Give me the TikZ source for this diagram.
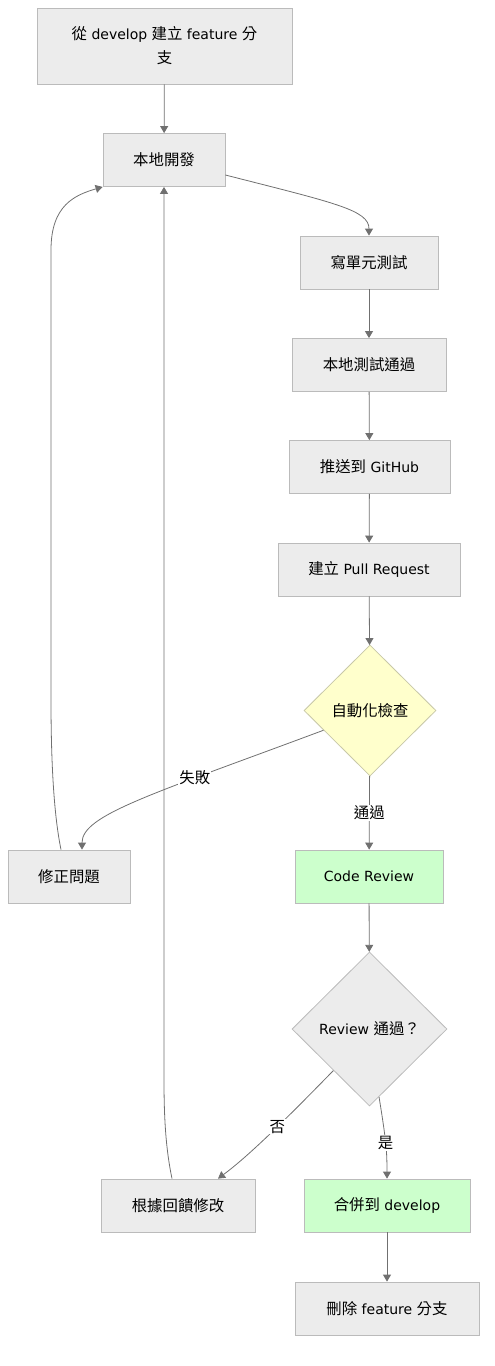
\documentclass[tikz,border=0pt]{standalone}
\usepackage{fontspec}
\setmainfont{DejaVu Sans}
\newfontfamily\cjk[Scale=1.1]{Noto Sans CJK TC}
\newcommand{\zh}[1]{{\cjk #1}}
\usetikzlibrary{shapes.geometric,arrows.meta}

\definecolor{boxfill}{HTML}{ECECEC}
\definecolor{boxline}{HTML}{BBBBBB}
\definecolor{checkfill}{HTML}{FFFFCC}
\definecolor{checkline}{HTML}{C8C8A8}
\definecolor{okfill}{HTML}{CCFFCC}
\definecolor{edgeline}{HTML}{707070}

\tikzset{
    box/.style={draw=boxline, fill=boxfill, line width=0.8pt, minimum height=53pt, inner sep=0pt, align=center},
    okbox/.style={box, fill=okfill},
    decision/.style={diamond, draw=boxline, fill=boxfill, line width=0.8pt, inner sep=0pt, align=center},
    edge/.style={draw=edgeline, line width=0.8pt, -{Triangle[length=7pt,width=8pt]}},
    lbl/.style={fill=white, inner sep=1pt}
}

\begin{document}
\begin{tikzpicture}[x=1pt, y=-1pt, font=\fontsize{14}{24}\selectfont]
    \useasboundingbox (0,0) rectangle (495,1366);

    % Nodes
    \node[box, minimum width=255pt, minimum height=76pt] (start) at (164.5,46) {\zh{從} develop \zh{建立} feature \zh{分}\\\zh{支}};
    \node[box, minimum width=122pt] (dev) at (164,160) {\zh{本地開發}};
    \node[box, minimum width=138pt] (unit) at (369,262.5) {\zh{寫單元測試}};
    \node[box, minimum width=154pt] (localtest) at (369,365) {\zh{本地測試通過}};
    \node[box, minimum width=161pt] (push) at (369.5,467) {\zh{推送到} GitHub};
    \node[box, minimum width=182pt] (pr) at (369,569.5) {\zh{建立} Pull Request};
    \node[decision, fill=checkfill, draw=checkline, minimum width=132pt, minimum height=131pt] (auto) at (370,710.5) {\zh{自動化檢查}};
    \node[box, minimum width=122pt] (fix) at (69,876.5) {\zh{修正問題}};
    \node[okbox, minimum width=148pt] (review) at (369,876.5) {Code Review};
    \node[decision, minimum width=155pt, minimum height=154pt] (passed) at (369.5,1029) {Review \zh{通過？}};
    \node[box, minimum width=154pt] (feedback) at (178,1205.5) {\zh{根據回饋修改}};
    \node[okbox, minimum width=166pt] (merge) at (387,1205.5) {\zh{合併到} develop};
    \node[box, minimum width=184pt] (delete) at (387,1308.5) {\zh{刪除} feature \zh{分支}};

    % Main flow
    \draw[edge] (start) -- (dev);
    \draw[edge] ([yshift=-15pt]dev.east) .. controls (335,203) and (369,210) .. (unit.north);
    \draw[edge] (unit) -- (localtest);
    \draw[edge] (localtest) -- (push);
    \draw[edge] (push) -- (pr);
    \draw[edge] (pr) -- (auto);
    \draw[edge] (auto) -- node[lbl] {\zh{通過}} (review);
    \draw[edge] (review) -- (passed);
    \draw[edge] (passed.-82) .. controls (386,1140) and (387,1150) .. node[lbl, pos=0.5] {\zh{是}} (merge.north);
    \draw[edge] (merge) -- (delete);

    % Failure branches
    \draw[edge] (auto.-157) .. controls (150,795) and (82,815) .. node[lbl, pos=0.3] {\zh{失敗}} ([xshift=13pt]fix.north);
    \draw[edge] (passed.-131) .. controls (290,1115) and (250,1155) .. node[lbl, pos=0.45] {\zh{否}} ([xshift=40pt]feedback.north);

    % Back to local development
    \draw[edge] ([xshift=-8pt]fix.north) .. controls (57,830) and (51,790) .. (51,700) -- (51,250) .. controls (51,205) and (75,195) .. (dev.south west);
    \draw[edge] ([xshift=-6pt]feedback.north) .. controls (166,1150) and (164,1120) .. (164,1080) -- (dev.south);
\end{tikzpicture}
\end{document}
